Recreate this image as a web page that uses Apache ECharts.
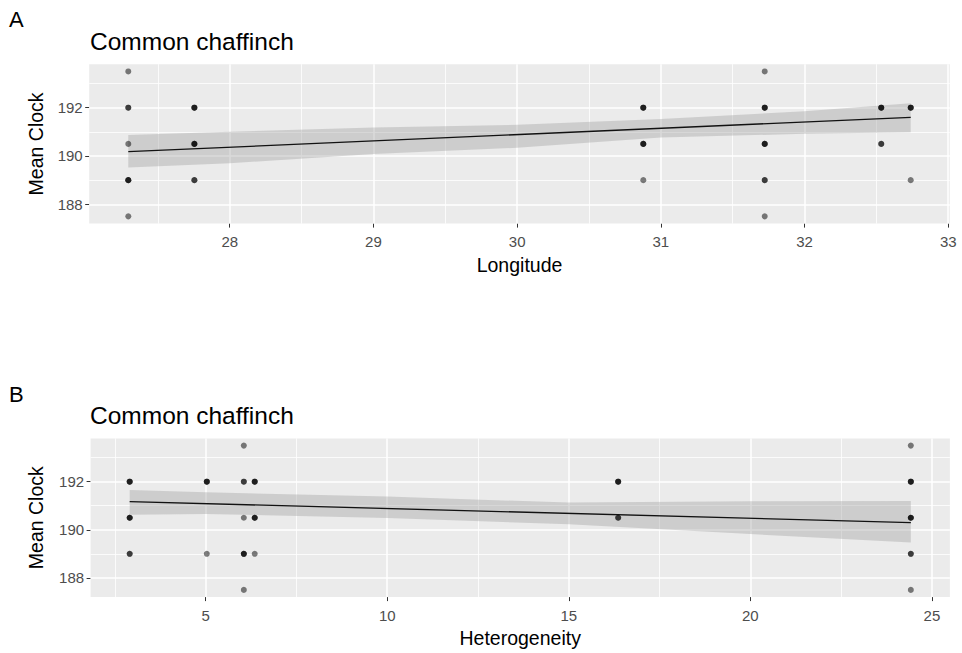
<!DOCTYPE html>
<html>
<head>
<meta charset="utf-8">
<title>Common chaffinch</title>
<script src="https://cdn.jsdelivr.net/npm/echarts@6/dist/echarts.min.js"></script>
<style>
  html, body { margin: 0; padding: 0; background: #ffffff; }
  #chart { width: 962px; height: 653px; }
</style>
</head>
<body>
<div id="chart"></div>
<script>
// Panel A: mean clock against longitude (one entry per bird record)
const longitude = [
  27.294, 27.294, 27.294, 27.294, 27.294, 27.294, 27.294, 27.294,
  27.754, 27.754, 27.754, 27.754, 27.754, 27.754, 27.754, 27.754,
  30.878, 30.878, 30.878, 30.878, 30.878, 30.878, 30.878,
  31.723, 31.723, 31.723, 31.723, 31.723, 31.723, 31.723, 31.723, 31.723, 31.723,
  32.534, 32.534, 32.534, 32.534, 32.534,
  32.739, 32.739, 32.739, 32.739
];
const clockA = [
  193.5, 192, 192, 190.5, 189, 189, 189, 187.5,
  192, 192, 192, 190.5, 190.5, 190.5, 189, 189,
  192, 192, 192, 190.5, 190.5, 190.5, 189,
  193.5, 192, 192, 192, 190.5, 190.5, 190.5, 189, 189, 187.5,
  192, 192, 192, 190.5, 190.5,
  192, 192, 192, 189
];
// Linear fit and its confidence band
const fitLonX = [27.294, 32.739];
const fitLonY = [190.18, 191.6];
const bandLonX = [27.294, 28, 29, 30, 31, 32, 32.739];
const bandLonLo = [189.52, 189.7, 190.08, 190.34, 190.76, 190.92, 190.98];
const bandLonHi = [190.87, 191.0, 191.18, 191.29, 191.53, 191.85, 192.18];

// Panel B: mean clock against habitat heterogeneity
const heterogeneity = [
  2.906, 2.906, 2.906, 2.906, 2.906, 2.906, 2.906, 2.906,
  5.03, 5.03, 5.03, 5.03,
  6.05, 6.05, 6.05, 6.05, 6.05, 6.05, 6.05, 6.05,
  6.35, 6.35, 6.35, 6.35, 6.35, 6.35, 6.35,
  16.36, 16.36, 16.36, 16.36, 16.36,
  24.42, 24.42, 24.42, 24.42, 24.42, 24.42, 24.42, 24.42, 24.42, 24.42
];
const clockB = [
  192, 192, 192, 190.5, 190.5, 190.5, 189, 189,
  192, 192, 192, 189,
  193.5, 192, 192, 190.5, 189, 189, 189, 187.5,
  192, 192, 192, 190.5, 190.5, 190.5, 189,
  192, 192, 192, 190.5, 190.5,
  193.5, 192, 192, 192, 190.5, 190.5, 190.5, 189, 189, 187.5
];
const fitHetX = [2.906, 24.42];
const fitHetY = [191.17, 190.3];
const bandHetX = [2.906, 5, 10, 15, 20, 24.42];
const bandHetLo = [190.62, 190.66, 190.49, 190.23, 189.82, 189.47];
const bandHetHi = [191.65, 191.56, 191.38, 191.13, 191.19, 191.2];

// Axis breaks
const lonMajor = [28, 29, 30, 31, 32, 33];
const lonMinor = [27.5, 28.5, 29.5, 30.5, 31.5, 32.5];
const hetMajor = [5, 10, 15, 20, 25];
const hetMinor = [2.5, 7.5, 12.5, 17.5, 22.5];
const clockMajor = [188, 190, 192];
const clockMinor = [189, 191, 193];

const FONT = "'Liberation Sans', Arial, sans-serif";

function zip(xs, ys) { return xs.map((x, i) => [x, ys[i]]); }

function gridSeries(idx, xMajor, xMinor) {
  const lines = [];
  xMinor.forEach(v => lines.push({ xAxis: v, lineStyle: { width: 0.8 } }));
  clockMinor.forEach(v => lines.push({ yAxis: v, lineStyle: { width: 0.8 } }));
  xMajor.forEach(v => lines.push({ xAxis: v, lineStyle: { width: 1.5 } }));
  clockMajor.forEach(v => lines.push({ yAxis: v, lineStyle: { width: 1.5 } }));
  return {
    type: 'scatter', xAxisIndex: idx, yAxisIndex: idx, data: [], silent: true, z: 1,
    markLine: {
      silent: true, z: 1, symbol: ['none', 'none'], animation: false,
      label: { show: false },
      lineStyle: { color: '#ffffff', type: 'solid', opacity: 1 },
      emphasis: { disabled: true },
      data: lines
    }
  };
}

function bandSeries(idx, xs, lo, hi) {
  return {
    type: 'custom', xAxisIndex: idx, yAxisIndex: idx, z: 2, silent: true,
    data: xs.map((x, i) => [x, lo[i], hi[i]]),
    encode: { x: 0, y: [1, 2] },
    renderItem: function (params, api) {
      if (params.dataIndex !== 0) return null;
      const pts = [];
      for (let i = 0; i < xs.length; i++) pts.push(api.coord([xs[i], hi[i]]));
      for (let i = xs.length - 1; i >= 0; i--) pts.push(api.coord([xs[i], lo[i]]));
      return { type: 'polygon', shape: { points: pts }, style: { fill: 'rgba(153,153,153,0.36)' } };
    }
  };
}

function fitSeries(idx, xs, ys) {
  return {
    type: 'line', xAxisIndex: idx, yAxisIndex: idx, z: 3, silent: true,
    data: zip(xs, ys), showSymbol: false, symbol: 'none',
    lineStyle: { color: '#111111', width: 1.3 }
  };
}

function pointSeries(idx, xs, ys) {
  return {
    type: 'scatter', xAxisIndex: idx, yAxisIndex: idx, z: 4, silent: true,
    data: zip(xs, ys), symbolSize: 6,
    itemStyle: { color: '#000000', opacity: 0.5 }
  };
}

function xAxisDef(idx, min, max, major, margin) {
  return {
    type: 'value', gridIndex: idx, min: min, max: max,
    axisLine: { show: false },
    splitLine: { show: false },
    axisTick: { show: true, customValues: major, length: 4, lineStyle: { color: '#333333', width: 1 } },
    axisLabel: { customValues: major, color: '#4d4d4d', fontSize: 15, fontFamily: FONT, margin: margin }
  };
}

function yAxisDef(idx) {
  return {
    type: 'value', gridIndex: idx, min: 187.2, max: 193.8,
    axisLine: { show: false },
    splitLine: { show: false },
    axisTick: { show: true, customValues: clockMajor, length: 4, lineStyle: { color: '#333333', width: 1 } },
    axisLabel: { customValues: clockMajor, color: '#4d4d4d', fontSize: 15, fontFamily: FONT, margin: 6.5 }
  };
}

function label(str, x, y, size, align, rotate) {
  return {
    type: 'text', x: x, y: y, silent: true, rotation: rotate ? Math.PI / 2 : 0,
    style: { text: str, fill: '#000000', font: size + 'px ' + FONT, textAlign: align, textVerticalAlign: 'middle' }
  };
}

const chart = echarts.init(document.getElementById('chart'), null, { renderer: 'svg' });
chart.setOption({
  animation: false,
  backgroundColor: '#ffffff',
  grid: [
    { left: 89.2, top: 64.2, width: 860.6, height: 159.4, show: true, backgroundColor: '#ebebeb', borderWidth: 0 },
    { left: 90.6, top: 438.4, width: 859.3, height: 158.7, show: true, backgroundColor: '#ebebeb', borderWidth: 0 }
  ],
  xAxis: [
    xAxisDef(0, 27.022, 33.011, lonMajor, 10),
    xAxisDef(1, 1.83, 25.496, hetMajor, 11)
  ],
  yAxis: [yAxisDef(0), yAxisDef(1)],
  series: [
    gridSeries(0, lonMajor, lonMinor),
    bandSeries(0, bandLonX, bandLonLo, bandLonHi),
    fitSeries(0, fitLonX, fitLonY),
    pointSeries(0, longitude, clockA),
    gridSeries(1, hetMajor, hetMinor),
    bandSeries(1, bandHetX, bandHetLo, bandHetHi),
    fitSeries(1, fitHetX, fitHetY),
    pointSeries(1, heterogeneity, clockB)
  ],
  graphic: [
    label('A', 9, 19, 22, 'left'),
    label('Common chaffinch', 90, 41, 24.5, 'left'),
    label('Longitude', 519.5, 265, 19.5, 'center'),
    label('Mean Clock', 36, 143.9, 19.5, 'center', true),
    label('B', 9, 394, 22, 'left'),
    label('Common chaffinch', 90, 415, 24.5, 'left'),
    label('Heterogeneity', 520.2, 638, 19.5, 'center'),
    label('Mean Clock', 36, 517.7, 19.5, 'center', true)
  ]
});
</script>
</body>
</html>
